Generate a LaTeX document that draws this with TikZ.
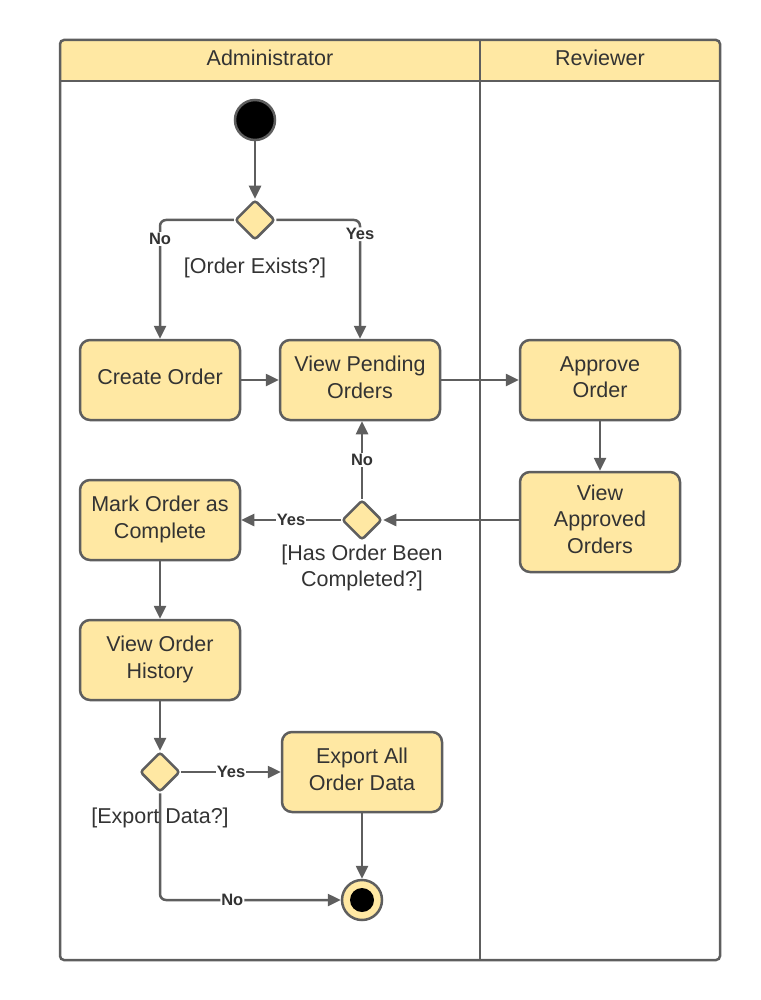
\documentclass[tikz,border=0pt]{standalone}
\usepackage{fontspec}
\setmainfont{Liberation Sans}
\usetikzlibrary{shapes.geometric,arrows.meta}
\definecolor{yf}{HTML}{FFE8A3}
\definecolor{lc}{HTML}{5E5E5E}
\definecolor{tc}{HTML}{333333}
\tikzset{
  act/.style={draw=lc, fill=yf, rounded corners=10pt, line width=2.5pt, minimum width=160pt, minimum height=80pt, align=center, text=tc, font=\fontsize{21.5}{26.5}\selectfont, inner sep=2pt, text depth=6pt},
  dec/.style={draw=lc, fill=yf, diamond, line width=2.5pt, minimum width=40pt, minimum height=40pt, inner sep=0pt, rounded corners=3pt},
  arr/.style={draw=lc, line width=2.5pt, -{Triangle[length=13pt,width=12pt]}},
  ln/.style={draw=lc, line width=2.5pt},
  lbl/.style={fill=white, text=tc, inner sep=1pt, font=\bfseries\fontsize{16.5}{18}\selectfont},
  captxt/.style={text=tc, align=center, font=\fontsize{21.5}{26.5}\selectfont},
}
\begin{document}
\begin{tikzpicture}[x=1pt,y=-1pt]
\useasboundingbox (0,0) rectangle (760,1000);
% swimlanes
\fill[yf, rounded corners=4pt] (60,40) rectangle (720,81);
\draw[ln, rounded corners=4pt] (60,40) rectangle (720,960);
\draw[ln] (60,81) -- (720,81);
\draw[ln] (480,40) -- (480,960);
\node[captxt] (laneA) at (270,58) {Administrator};
\node[captxt] (laneR) at (600,58) {Reviewer};
% nodes
\node[circle, fill=black, draw=lc, line width=2.5pt, minimum size=40pt, inner sep=0pt] (start) at (255,120) {};
\node[dec] (d1) at (255,220) {};
\node[captxt] (c1) at (255,268) {[Order Exists?]};
\node[act] (create) at (160,380) {Create Order};
\node[act] (view) at (360,380) {View Pending\\Orders};
\node[act] (approve) at (600,380) {Approve\\Order};
\node[act, minimum height=100pt] (vapp) at (600,522) {View\\Approved\\Orders};
\node[dec] (d2) at (362,520) {};
\node[captxt] (c2) at (362,568) {[Has Order Been\\Completed?]};
\node[act] (mark) at (160,520) {Mark Order as\\Complete};
\node[act] (hist) at (160,660) {View Order\\History};
\node[dec] (d3) at (160,772) {};
\node[captxt] (c3) at (160,818) {[Export Data?]};
\node[act] (export) at (362,772) {Export All\\Order Data};
\node[circle, fill=yf, draw=lc, line width=2.5pt, minimum size=40pt, inner sep=0pt] (end) at (362,900) {};
\node[circle, fill=black, minimum size=24pt, inner sep=0pt] (endin) at (end) {};
% edges
\draw[arr] (start) -- (d1);
\draw[arr, rounded corners=6pt] (d1.west) -| node[lbl, pos=0.58] {No} (create.north);
\draw[arr, rounded corners=6pt] (d1.east) -| node[lbl, pos=0.56] {Yes} (view.north);
\draw[arr] (create) -- (view);
\draw[arr] (view) -- (approve);
\draw[arr] (approve) -- (vapp);
\draw[arr] (vapp.west |- d2) -- (d2.east);
\draw[arr] (d2.north) -- node[lbl, pos=0.5] {No} (view.south -| d2);
\draw[arr] (d2.west) -- node[lbl, pos=0.5] {Yes} (mark.east);
\draw[arr] (mark) -- (hist);
\draw[arr] (hist) -- (d3);
\draw[arr] (d3.east) -- node[lbl, pos=0.5] {Yes} (export.west);
\draw[arr] (export) -- (end);
\draw[arr, rounded corners=6pt] (d3.south) |- node[lbl, pos=0.7] {No} (end.west);
\end{tikzpicture}
\end{document}
